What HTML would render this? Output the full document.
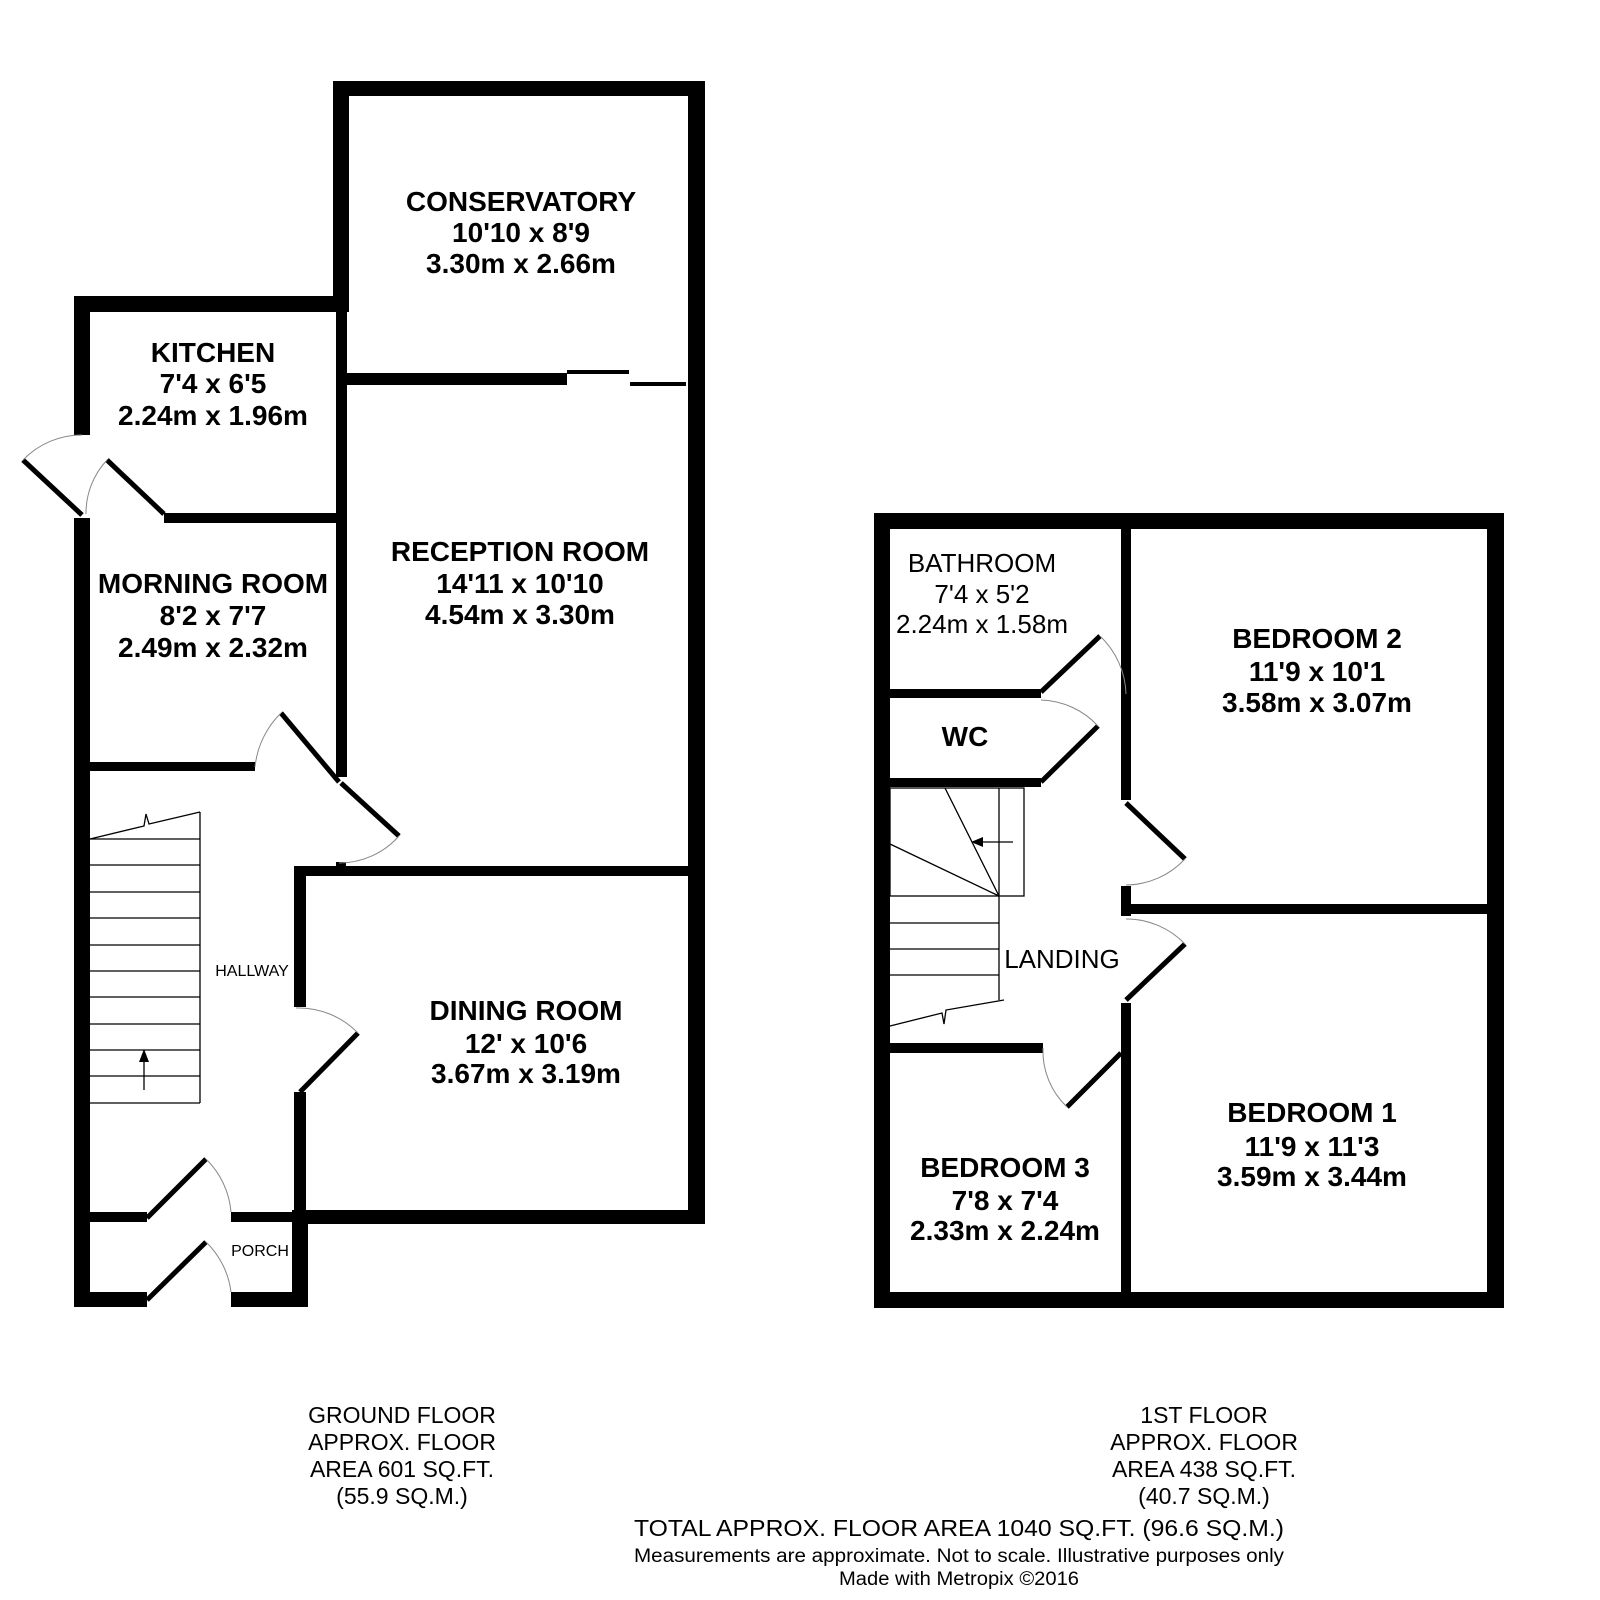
<!DOCTYPE html>
<html><head><meta charset="utf-8"><style>
html,body{margin:0;padding:0;background:#fff;}
svg{display:block;}
text{font-family:"Liberation Sans",Arial,sans-serif;fill:#000;}
</style></head><body>
<svg width="1600" height="1600" viewBox="0 0 1600 1600" xmlns="http://www.w3.org/2000/svg">
<g fill="#000">
<rect x="333" y="81" width="372" height="15"/>
<rect x="333" y="81" width="16" height="231"/>
<rect x="74" y="296" width="275" height="16"/>
<rect x="74" y="296" width="16" height="139"/>
<rect x="74" y="518" width="16" height="789"/>
<rect x="336" y="296" width="11" height="481"/>
<rect x="347" y="373" width="220" height="12"/>
<rect x="567" y="370" width="62" height="4"/>
<rect x="630" y="382" width="56" height="4"/>
<rect x="688" y="81" width="17" height="1143"/>
<rect x="164" y="513" width="172" height="10"/>
<rect x="90" y="762" width="165" height="9"/>
<rect x="294" y="866" width="396" height="10"/>
<rect x="336" y="862" width="10" height="8"/>
<rect x="294" y="866" width="12" height="141"/>
<rect x="294" y="1092" width="12" height="132"/>
<rect x="294" y="1210" width="411" height="14"/>
<rect x="292" y="1210" width="16" height="97"/>
<rect x="90" y="1212" width="57" height="10"/>
<rect x="231" y="1212" width="63" height="10"/>
<rect x="74" y="1292" width="73" height="15"/>
<rect x="231" y="1292" width="77" height="15"/>
<rect x="874" y="513" width="630" height="16"/>
<rect x="874" y="513" width="16" height="795"/>
<rect x="1487" y="513" width="17" height="795"/>
<rect x="874" y="1292" width="630" height="16"/>
<rect x="1121" y="529" width="10" height="271"/>
<rect x="1121" y="886" width="10" height="30"/>
<rect x="1131" y="904" width="356" height="10"/>
<rect x="1121" y="1003" width="10" height="290"/>
<rect x="890" y="689" width="151" height="9"/>
<rect x="890" y="778" width="151" height="9"/>
<rect x="890" y="1043" width="153" height="10"/>
</g>
<g stroke="#000" stroke-width="5" fill="none">
<line x1="82" y1="515" x2="23" y2="460"/>
<line x1="164" y1="514" x2="107" y2="460"/>
<line x1="339" y1="782" x2="281" y2="713"/>
<line x1="341" y1="783" x2="399" y2="836"/>
<line x1="300" y1="1092" x2="358" y2="1033"/>
<line x1="147" y1="1218" x2="206" y2="1159"/>
<line x1="147" y1="1300" x2="206" y2="1242"/>
<line x1="1041" y1="692" x2="1100" y2="636"/>
<line x1="1041" y1="782" x2="1098" y2="726"/>
<line x1="1126" y1="803" x2="1185" y2="859"/>
<line x1="1126" y1="1000" x2="1185" y2="944"/>
<line x1="1121" y1="1053" x2="1067" y2="1107"/>
</g>
<g stroke="#888" stroke-width="1" fill="none">
<path d="M23,460 A81,81 0 0 1 82,435"/>
<path d="M107,460 A78,78 0 0 0 86,514"/>
<path d="M281,713 A88,88 0 0 0 255,767"/>
<path d="M399,836 A80,80 0 0 1 339,863"/>
<path d="M358,1033 A83,83 0 0 0 296,1008"/>
<path d="M206,1159 A84,84 0 0 1 231,1212"/>
<path d="M206,1242 A84,84 0 0 1 231,1292"/>
<path d="M1100,636 A83,83 0 0 1 1126,694"/>
<path d="M1098,726 A81,81 0 0 0 1041,700"/>
<path d="M1185,859 A82,82 0 0 1 1126,885"/>
<path d="M1185,944 A81,81 0 0 0 1126,919"/>
<path d="M1067,1107 A77,77 0 0 1 1043,1048"/>
</g>
<g stroke="#000" stroke-width="1.3" fill="none">
<line x1="200" y1="812" x2="200" y2="1103"/>
<line x1="90" y1="839" x2="200" y2="839"/>
<line x1="90" y1="865" x2="200" y2="865"/>
<line x1="90" y1="892" x2="200" y2="892"/>
<line x1="90" y1="918" x2="200" y2="918"/>
<line x1="90" y1="945" x2="200" y2="945"/>
<line x1="90" y1="971" x2="200" y2="971"/>
<line x1="90" y1="997" x2="200" y2="997"/>
<line x1="90" y1="1024" x2="200" y2="1024"/>
<line x1="90" y1="1050" x2="200" y2="1050"/>
<line x1="90" y1="1076" x2="200" y2="1076"/>
<line x1="90" y1="1103" x2="200" y2="1103"/>
<polyline points="90,839 144,826 146,814 149,824 200,812"/>
<line x1="144" y1="1090" x2="144" y2="1058"/>
<rect x="890" y="788" width="134" height="108"/>
<line x1="999" y1="788" x2="999" y2="1000"/>
<line x1="945" y1="788" x2="999" y2="896"/>
<line x1="890" y1="844" x2="999" y2="896"/>
<line x1="890" y1="923" x2="999" y2="923"/>
<line x1="890" y1="949" x2="999" y2="949"/>
<line x1="890" y1="975" x2="999" y2="975"/>
<polyline points="890,1026 942,1013 944,1024 946,1010 1004,1000"/>
<line x1="1013" y1="842" x2="980" y2="842"/>
</g>
<polygon points="144,1049 139,1062 149,1062" fill="#000"/>
<polygon points="971,842 983,837 983,847" fill="#000"/>
<g font-weight="bold" font-size="28" text-anchor="middle">
<text x="521" y="211">CONSERVATORY</text>
<text x="521" y="242">10'10 x 8'9</text>
<text x="521" y="273">3.30m x 2.66m</text>
<text x="213" y="362">KITCHEN</text>
<text x="213" y="393">7'4 x 6'5</text>
<text x="213" y="425">2.24m x 1.96m</text>
<text x="520" y="561">RECEPTION ROOM</text>
<text x="520" y="593">14'11 x 10'10</text>
<text x="520" y="624">4.54m x 3.30m</text>
<text x="213" y="593">MORNING ROOM</text>
<text x="213" y="625">8'2 x 7'7</text>
<text x="213" y="657">2.49m x 2.32m</text>
<text x="526" y="1020">DINING ROOM</text>
<text x="526" y="1053">12' x 10'6</text>
<text x="526" y="1083">3.67m x 3.19m</text>
<text x="1317" y="648">BEDROOM 2</text>
<text x="1317" y="681">11'9 x 10'1</text>
<text x="1317" y="712">3.58m x 3.07m</text>
<text x="1312" y="1122">BEDROOM 1</text>
<text x="1312" y="1156">11'9 x 11'3</text>
<text x="1312" y="1186">3.59m x 3.44m</text>
<text x="1005" y="1177">BEDROOM 3</text>
<text x="1005" y="1210">7'8 x 7'4</text>
<text x="1005" y="1240">2.33m x 2.24m</text>
<text x="965" y="746">WC</text>
</g>
<g font-size="26" text-anchor="middle">
<text x="982" y="572">BATHROOM</text>
<text x="982" y="603">7'4 x 5'2</text>
<text x="982" y="633">2.24m x 1.58m</text>
<text x="1062" y="968">LANDING</text>
</g>
<g font-size="16" text-anchor="middle">
<text x="252" y="976">HALLWAY</text>
<text x="260" y="1256">PORCH</text>
</g>
<g font-size="23" text-anchor="middle">
<text x="402" y="1423">GROUND FLOOR</text>
<text x="402" y="1450">APPROX. FLOOR</text>
<text x="402" y="1477">AREA 601 SQ.FT.</text>
<text x="402" y="1504">(55.9 SQ.M.)</text>
<text x="1204" y="1423">1ST FLOOR</text>
<text x="1204" y="1450">APPROX. FLOOR</text>
<text x="1204" y="1477">AREA 438 SQ.FT.</text>
<text x="1204" y="1504">(40.7 SQ.M.)</text>
<text x="959" y="1536" textLength="650" lengthAdjust="spacingAndGlyphs">TOTAL APPROX. FLOOR AREA 1040 SQ.FT. (96.6 SQ.M.)</text>
</g>
<g font-size="19" text-anchor="middle">
<text x="959" y="1562" textLength="650" lengthAdjust="spacingAndGlyphs">Measurements are approximate.  Not to scale.  Illustrative purposes only</text>
<text x="959" y="1585" textLength="240" lengthAdjust="spacingAndGlyphs">Made with Metropix ©2016</text>
</g>
</svg>
</body></html>
